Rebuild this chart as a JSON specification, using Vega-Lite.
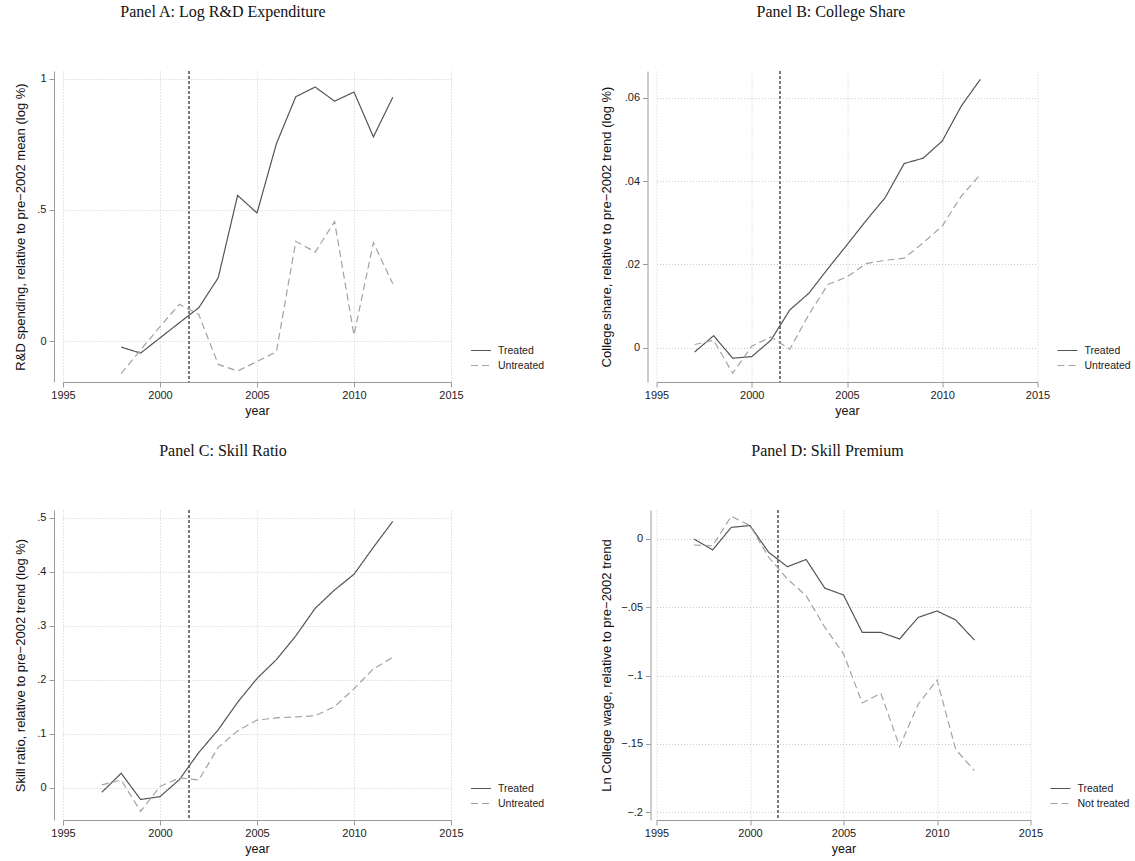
{
  "$schema": "https://vega.github.io/schema/vega-lite/v6.json",
  "background": "white",
  "padding": {"left": 14, "top": 3, "right": 2, "bottom": 2},
  "datasets": {
    "rd": [
      {"year": 1998, "group": "Treated", "value": -0.023},
      {"year": 1999, "group": "Treated", "value": -0.046},
      {"year": 2000, "group": "Treated", "value": 0.012},
      {"year": 2001, "group": "Treated", "value": 0.07},
      {"year": 2002, "group": "Treated", "value": 0.127},
      {"year": 2003, "group": "Treated", "value": 0.241},
      {"year": 2004, "group": "Treated", "value": 0.555},
      {"year": 2005, "group": "Treated", "value": 0.488},
      {"year": 2006, "group": "Treated", "value": 0.752},
      {"year": 2007, "group": "Treated", "value": 0.931},
      {"year": 2008, "group": "Treated", "value": 0.968},
      {"year": 2009, "group": "Treated", "value": 0.914},
      {"year": 2010, "group": "Treated", "value": 0.949},
      {"year": 2011, "group": "Treated", "value": 0.778},
      {"year": 2012, "group": "Treated", "value": 0.929},
      {"year": 1998, "group": "Untreated", "value": -0.124},
      {"year": 1999, "group": "Untreated", "value": -0.034},
      {"year": 2000, "group": "Untreated", "value": 0.055},
      {"year": 2001, "group": "Untreated", "value": 0.14},
      {"year": 2002, "group": "Untreated", "value": 0.101},
      {"year": 2003, "group": "Untreated", "value": -0.089},
      {"year": 2004, "group": "Untreated", "value": -0.114},
      {"year": 2005, "group": "Untreated", "value": -0.078},
      {"year": 2006, "group": "Untreated", "value": -0.041},
      {"year": 2007, "group": "Untreated", "value": 0.38},
      {"year": 2008, "group": "Untreated", "value": 0.339},
      {"year": 2009, "group": "Untreated", "value": 0.455},
      {"year": 2010, "group": "Untreated", "value": 0.023},
      {"year": 2011, "group": "Untreated", "value": 0.375},
      {"year": 2012, "group": "Untreated", "value": 0.218}
    ],
    "college": [
      {"year": 1997, "group": "Treated", "value": -0.001},
      {"year": 1998, "group": "Treated", "value": 0.0029},
      {"year": 1999, "group": "Treated", "value": -0.0025},
      {"year": 2000, "group": "Treated", "value": -0.0021},
      {"year": 2001, "group": "Treated", "value": 0.0018},
      {"year": 2002, "group": "Treated", "value": 0.0091},
      {"year": 2003, "group": "Treated", "value": 0.0131},
      {"year": 2004, "group": "Treated", "value": 0.019},
      {"year": 2005, "group": "Treated", "value": 0.0247},
      {"year": 2006, "group": "Treated", "value": 0.0305},
      {"year": 2007, "group": "Treated", "value": 0.036},
      {"year": 2008, "group": "Treated", "value": 0.0442},
      {"year": 2009, "group": "Treated", "value": 0.0455},
      {"year": 2010, "group": "Treated", "value": 0.0496},
      {"year": 2011, "group": "Treated", "value": 0.058},
      {"year": 2012, "group": "Treated", "value": 0.0644},
      {"year": 1997, "group": "Untreated", "value": 0.0008},
      {"year": 1998, "group": "Untreated", "value": 0.0018},
      {"year": 1999, "group": "Untreated", "value": -0.0061},
      {"year": 2000, "group": "Untreated", "value": 0.0004},
      {"year": 2001, "group": "Untreated", "value": 0.0026},
      {"year": 2002, "group": "Untreated", "value": -0.0003},
      {"year": 2003, "group": "Untreated", "value": 0.008},
      {"year": 2004, "group": "Untreated", "value": 0.0152},
      {"year": 2005, "group": "Untreated", "value": 0.017},
      {"year": 2006, "group": "Untreated", "value": 0.0202},
      {"year": 2007, "group": "Untreated", "value": 0.021},
      {"year": 2008, "group": "Untreated", "value": 0.0215},
      {"year": 2009, "group": "Untreated", "value": 0.0252},
      {"year": 2010, "group": "Untreated", "value": 0.0292},
      {"year": 2011, "group": "Untreated", "value": 0.0364},
      {"year": 2012, "group": "Untreated", "value": 0.0416}
    ],
    "skill": [
      {"year": 1997, "group": "Treated", "value": -0.0087},
      {"year": 1998, "group": "Treated", "value": 0.0265},
      {"year": 1999, "group": "Treated", "value": -0.022},
      {"year": 2000, "group": "Treated", "value": -0.0167},
      {"year": 2001, "group": "Treated", "value": 0.0148},
      {"year": 2002, "group": "Treated", "value": 0.065},
      {"year": 2003, "group": "Treated", "value": 0.107},
      {"year": 2004, "group": "Treated", "value": 0.158},
      {"year": 2005, "group": "Treated", "value": 0.202},
      {"year": 2006, "group": "Treated", "value": 0.237},
      {"year": 2007, "group": "Treated", "value": 0.281},
      {"year": 2008, "group": "Treated", "value": 0.332},
      {"year": 2009, "group": "Treated", "value": 0.366},
      {"year": 2010, "group": "Treated", "value": 0.395},
      {"year": 2011, "group": "Treated", "value": 0.445},
      {"year": 2012, "group": "Treated", "value": 0.493},
      {"year": 1997, "group": "Untreated", "value": 0.005},
      {"year": 1998, "group": "Untreated", "value": 0.014},
      {"year": 1999, "group": "Untreated", "value": -0.044},
      {"year": 2000, "group": "Untreated", "value": 0.002},
      {"year": 2001, "group": "Untreated", "value": 0.018},
      {"year": 2002, "group": "Untreated", "value": 0.014},
      {"year": 2003, "group": "Untreated", "value": 0.0746},
      {"year": 2004, "group": "Untreated", "value": 0.105},
      {"year": 2005, "group": "Untreated", "value": 0.125},
      {"year": 2006, "group": "Untreated", "value": 0.129},
      {"year": 2007, "group": "Untreated", "value": 0.131},
      {"year": 2008, "group": "Untreated", "value": 0.133},
      {"year": 2009, "group": "Untreated", "value": 0.15},
      {"year": 2010, "group": "Untreated", "value": 0.183},
      {"year": 2011, "group": "Untreated", "value": 0.22},
      {"year": 2012, "group": "Untreated", "value": 0.241}
    ],
    "premium": [
      {"year": 1997, "group": "Treated", "value": 0.0},
      {"year": 1998, "group": "Treated", "value": -0.008},
      {"year": 1999, "group": "Treated", "value": 0.0085},
      {"year": 2000, "group": "Treated", "value": 0.0098},
      {"year": 2001, "group": "Treated", "value": -0.0098},
      {"year": 2002, "group": "Treated", "value": -0.0203},
      {"year": 2003, "group": "Treated", "value": -0.015},
      {"year": 2004, "group": "Treated", "value": -0.036},
      {"year": 2005, "group": "Treated", "value": -0.041},
      {"year": 2006, "group": "Treated", "value": -0.0683},
      {"year": 2007, "group": "Treated", "value": -0.0684},
      {"year": 2008, "group": "Treated", "value": -0.0732},
      {"year": 2009, "group": "Treated", "value": -0.0574},
      {"year": 2010, "group": "Treated", "value": -0.0527},
      {"year": 2011, "group": "Treated", "value": -0.0593},
      {"year": 2012, "group": "Treated", "value": -0.074},
      {"year": 1997, "group": "Not treated", "value": -0.0044},
      {"year": 1998, "group": "Not treated", "value": -0.005},
      {"year": 1999, "group": "Not treated", "value": 0.0166},
      {"year": 2000, "group": "Not treated", "value": 0.0098},
      {"year": 2001, "group": "Not treated", "value": -0.0134},
      {"year": 2002, "group": "Not treated", "value": -0.0293},
      {"year": 2003, "group": "Not treated", "value": -0.0415},
      {"year": 2004, "group": "Not treated", "value": -0.0647},
      {"year": 2005, "group": "Not treated", "value": -0.084},
      {"year": 2006, "group": "Not treated", "value": -0.12},
      {"year": 2007, "group": "Not treated", "value": -0.113},
      {"year": 2008, "group": "Not treated", "value": -0.152},
      {"year": 2009, "group": "Not treated", "value": -0.1208},
      {"year": 2010, "group": "Not treated", "value": -0.1032},
      {"year": 2011, "group": "Not treated", "value": -0.154},
      {"year": 2012, "group": "Not treated", "value": -0.1696}
    ]
  },
  "concat": [
    {
      "width": 388,
      "height": 311,
      "title": {"text": "Panel A: Log R&D Expenditure", "dx": -34},
      "data": {"name": "rd"},
      "layer": [
        {
          "mark": {"type": "rule", "color": "#7a7a7a", "strokeDash": [3, 2], "strokeWidth": 0.8},
          "encoding": {"x": {"datum": 2001.5, "type": "quantitative"}}
        },
        {
          "mark": {"type": "line", "strokeWidth": 1.2},
          "encoding": {
            "x": {"field": "year", "type": "quantitative", "title": "year",
                  "scale": {"domain": [1995, 2015], "nice": false, "zero": false},
                  "axis": {"values": [1995, 2000, 2005, 2010, 2015], "format": "d"}},
            "y": {"field": "value", "type": "quantitative",
                  "title": "R&D spending, relative to pre−2002 mean (log %)",
                  "scale": {"domain": [-0.156, 1.029], "nice": false, "zero": false},
                  "axis": {"values": [0, 0.5, 1], "offset": 9, "titleX": -27}},
            "color": {"field": "group", "type": "nominal",
                      "scale": {"domain": ["Treated", "Untreated"], "range": ["#555555", "#a3a3a3"]},
                      "legend": {"title": null, "legendX": 407, "legendY": 272}},
            "strokeDash": {"field": "group", "type": "nominal",
                           "scale": {"domain": ["Treated", "Untreated"], "range": [[1, 0], [7, 4]]},
                           "legend": {"title": null, "legendX": 407, "legendY": 272}}
          }
        }
      ]
    },
    {
      "width": 381,
      "height": 311,
      "title": {"text": "Panel B: College Share", "dx": -16},
      "data": {"name": "college"},
      "layer": [
        {
          "mark": {"type": "rule", "color": "#7a7a7a", "strokeDash": [3, 2], "strokeWidth": 0.8},
          "encoding": {"x": {"datum": 2001.5, "type": "quantitative"}}
        },
        {
          "mark": {"type": "line", "strokeWidth": 1.2},
          "encoding": {
            "x": {"field": "year", "type": "quantitative", "title": "year",
                  "scale": {"domain": [1995, 2015], "nice": false, "zero": false},
                  "axis": {"values": [1995, 2000, 2005, 2010, 2015], "format": "d"}},
            "y": {"field": "value", "type": "quantitative",
                  "title": "College share, relative to pre−2002 trend (log %)",
                  "scale": {"domain": [-0.0082, 0.0664], "nice": false, "zero": false},
                  "axis": {"values": [0, 0.02, 0.04, 0.06], "offset": 9, "titleX": -34}},
            "color": {"field": "group", "type": "nominal",
                      "scale": {"domain": ["Treated", "Untreated"], "range": ["#555555", "#a3a3a3"]},
                      "legend": {"title": null, "legendX": 400, "legendY": 272}},
            "strokeDash": {"field": "group", "type": "nominal",
                           "scale": {"domain": ["Treated", "Untreated"], "range": [[1, 0], [7, 4]]},
                           "legend": {"title": null, "legendX": 400, "legendY": 272}}
          }
        }
      ]
    },
    {
      "width": 388,
      "height": 310,
      "title": {"text": "Panel C: Skill Ratio", "dx": -34},
      "data": {"name": "skill"},
      "layer": [
        {
          "mark": {"type": "rule", "color": "#7a7a7a", "strokeDash": [3, 2], "strokeWidth": 0.8},
          "encoding": {"x": {"datum": 2001.5, "type": "quantitative"}}
        },
        {
          "mark": {"type": "line", "strokeWidth": 1.2},
          "encoding": {
            "x": {"field": "year", "type": "quantitative", "title": "year",
                  "scale": {"domain": [1995, 2015], "nice": false, "zero": false},
                  "axis": {"values": [1995, 2000, 2005, 2010, 2015], "format": "d"}},
            "y": {"field": "value", "type": "quantitative",
                  "title": "Skill ratio, relative to pre−2002 trend (log %)",
                  "scale": {"domain": [-0.06, 0.514], "nice": false, "zero": false},
                  "axis": {"values": [0, 0.1, 0.2, 0.3, 0.4, 0.5], "offset": 9, "titleX": -27}},
            "color": {"field": "group", "type": "nominal",
                      "scale": {"domain": ["Treated", "Untreated"], "range": ["#555555", "#a3a3a3"]},
                      "legend": {"title": null, "legendX": 407, "legendY": 271}},
            "strokeDash": {"field": "group", "type": "nominal",
                           "scale": {"domain": ["Treated", "Untreated"], "range": [[1, 0], [7, 4]]},
                           "legend": {"title": null, "legendX": 407, "legendY": 271}}
          }
        }
      ]
    },
    {
      "width": 374,
      "height": 310,
      "title": {"text": "Panel D: Skill Premium", "dx": -16},
      "data": {"name": "premium"},
      "layer": [
        {
          "mark": {"type": "rule", "color": "#7a7a7a", "strokeDash": [3, 2], "strokeWidth": 0.8},
          "encoding": {"x": {"datum": 2001.5, "type": "quantitative"}}
        },
        {
          "mark": {"type": "line", "strokeWidth": 1.2},
          "encoding": {
            "x": {"field": "year", "type": "quantitative", "title": "year",
                  "scale": {"domain": [1995, 2015], "nice": false, "zero": false},
                  "axis": {"values": [1995, 2000, 2005, 2010, 2015], "format": "d"}},
            "y": {"field": "value", "type": "quantitative",
                  "title": "Ln College wage, relative to pre−2002 trend",
                  "scale": {"domain": [-0.2057, 0.0212], "nice": false, "zero": false},
                  "axis": {"values": [0, -0.05, -0.1, -0.15, -0.2], "offset": 6, "titleX": -37}},
            "color": {"field": "group", "type": "nominal",
                      "scale": {"domain": ["Treated", "Not treated"], "range": ["#555555", "#a3a3a3"]},
                      "legend": {"title": null, "legendX": 393, "legendY": 271}},
            "strokeDash": {"field": "group", "type": "nominal",
                           "scale": {"domain": ["Treated", "Not treated"], "range": [[1, 0], [7, 4]]},
                           "legend": {"title": null, "legendX": 393, "legendY": 271}}
          }
        }
      ]
    }
  ],
  "columns": 2,
  "spacing": {"row": 128, "column": 205.5},
  "bounds": "flush",
  "resolve": {
    "scale": {"color": "independent", "strokeDash": "independent", "x": "independent", "y": "independent"},
    "legend": {"color": "independent", "strokeDash": "independent"}
  },
  "config": {
    "view": {"stroke": null},
    "title": {
      "font": "Liberation Serif",
      "fontSize": 16,
      "fontWeight": "normal",
      "color": "#111111",
      "anchor": "middle",
      "frame": "group",
      "baseline": "alphabetic",
      "offset": 51
    },
    "axis": {
      "labelFont": "Liberation Sans",
      "labelFontSize": 11,
      "labelColor": "#222222",
      "labelFlush": false,
      "titleFont": "Liberation Sans",
      "titleFontSize": 13,
      "titleFontWeight": "normal",
      "titleColor": "#111111",
      "domainColor": "#9a9a9a",
      "domainWidth": 1,
      "tickColor": "#9a9a9a",
      "tickSize": 5,
      "grid": true,
      "gridColor": "#cccccc",
      "gridDash": [1, 2],
      "gridWidth": 1,
      "labelPadding": 2
    },
    "axisX": {"titlePadding": 4, "titleFontSize": 12.5},
    "axisY": {
      "labelPadding": 3,
      "labelExpr": "replace(replace(format(datum.value, '~g'), '0.', '.'), '-', '−')"
    },
    "legend": {
      "orient": "none",
      "symbolType": "stroke",
      "symbolSize": 400,
      "symbolStrokeWidth": 1.2,
      "clipHeight": 15,
      "labelFont": "Liberation Sans",
      "labelFontSize": 10.5,
      "labelColor": "#222222",
      "labelOffset": 6,
      "rowPadding": 0,
      "padding": 0
    }
  }
}
